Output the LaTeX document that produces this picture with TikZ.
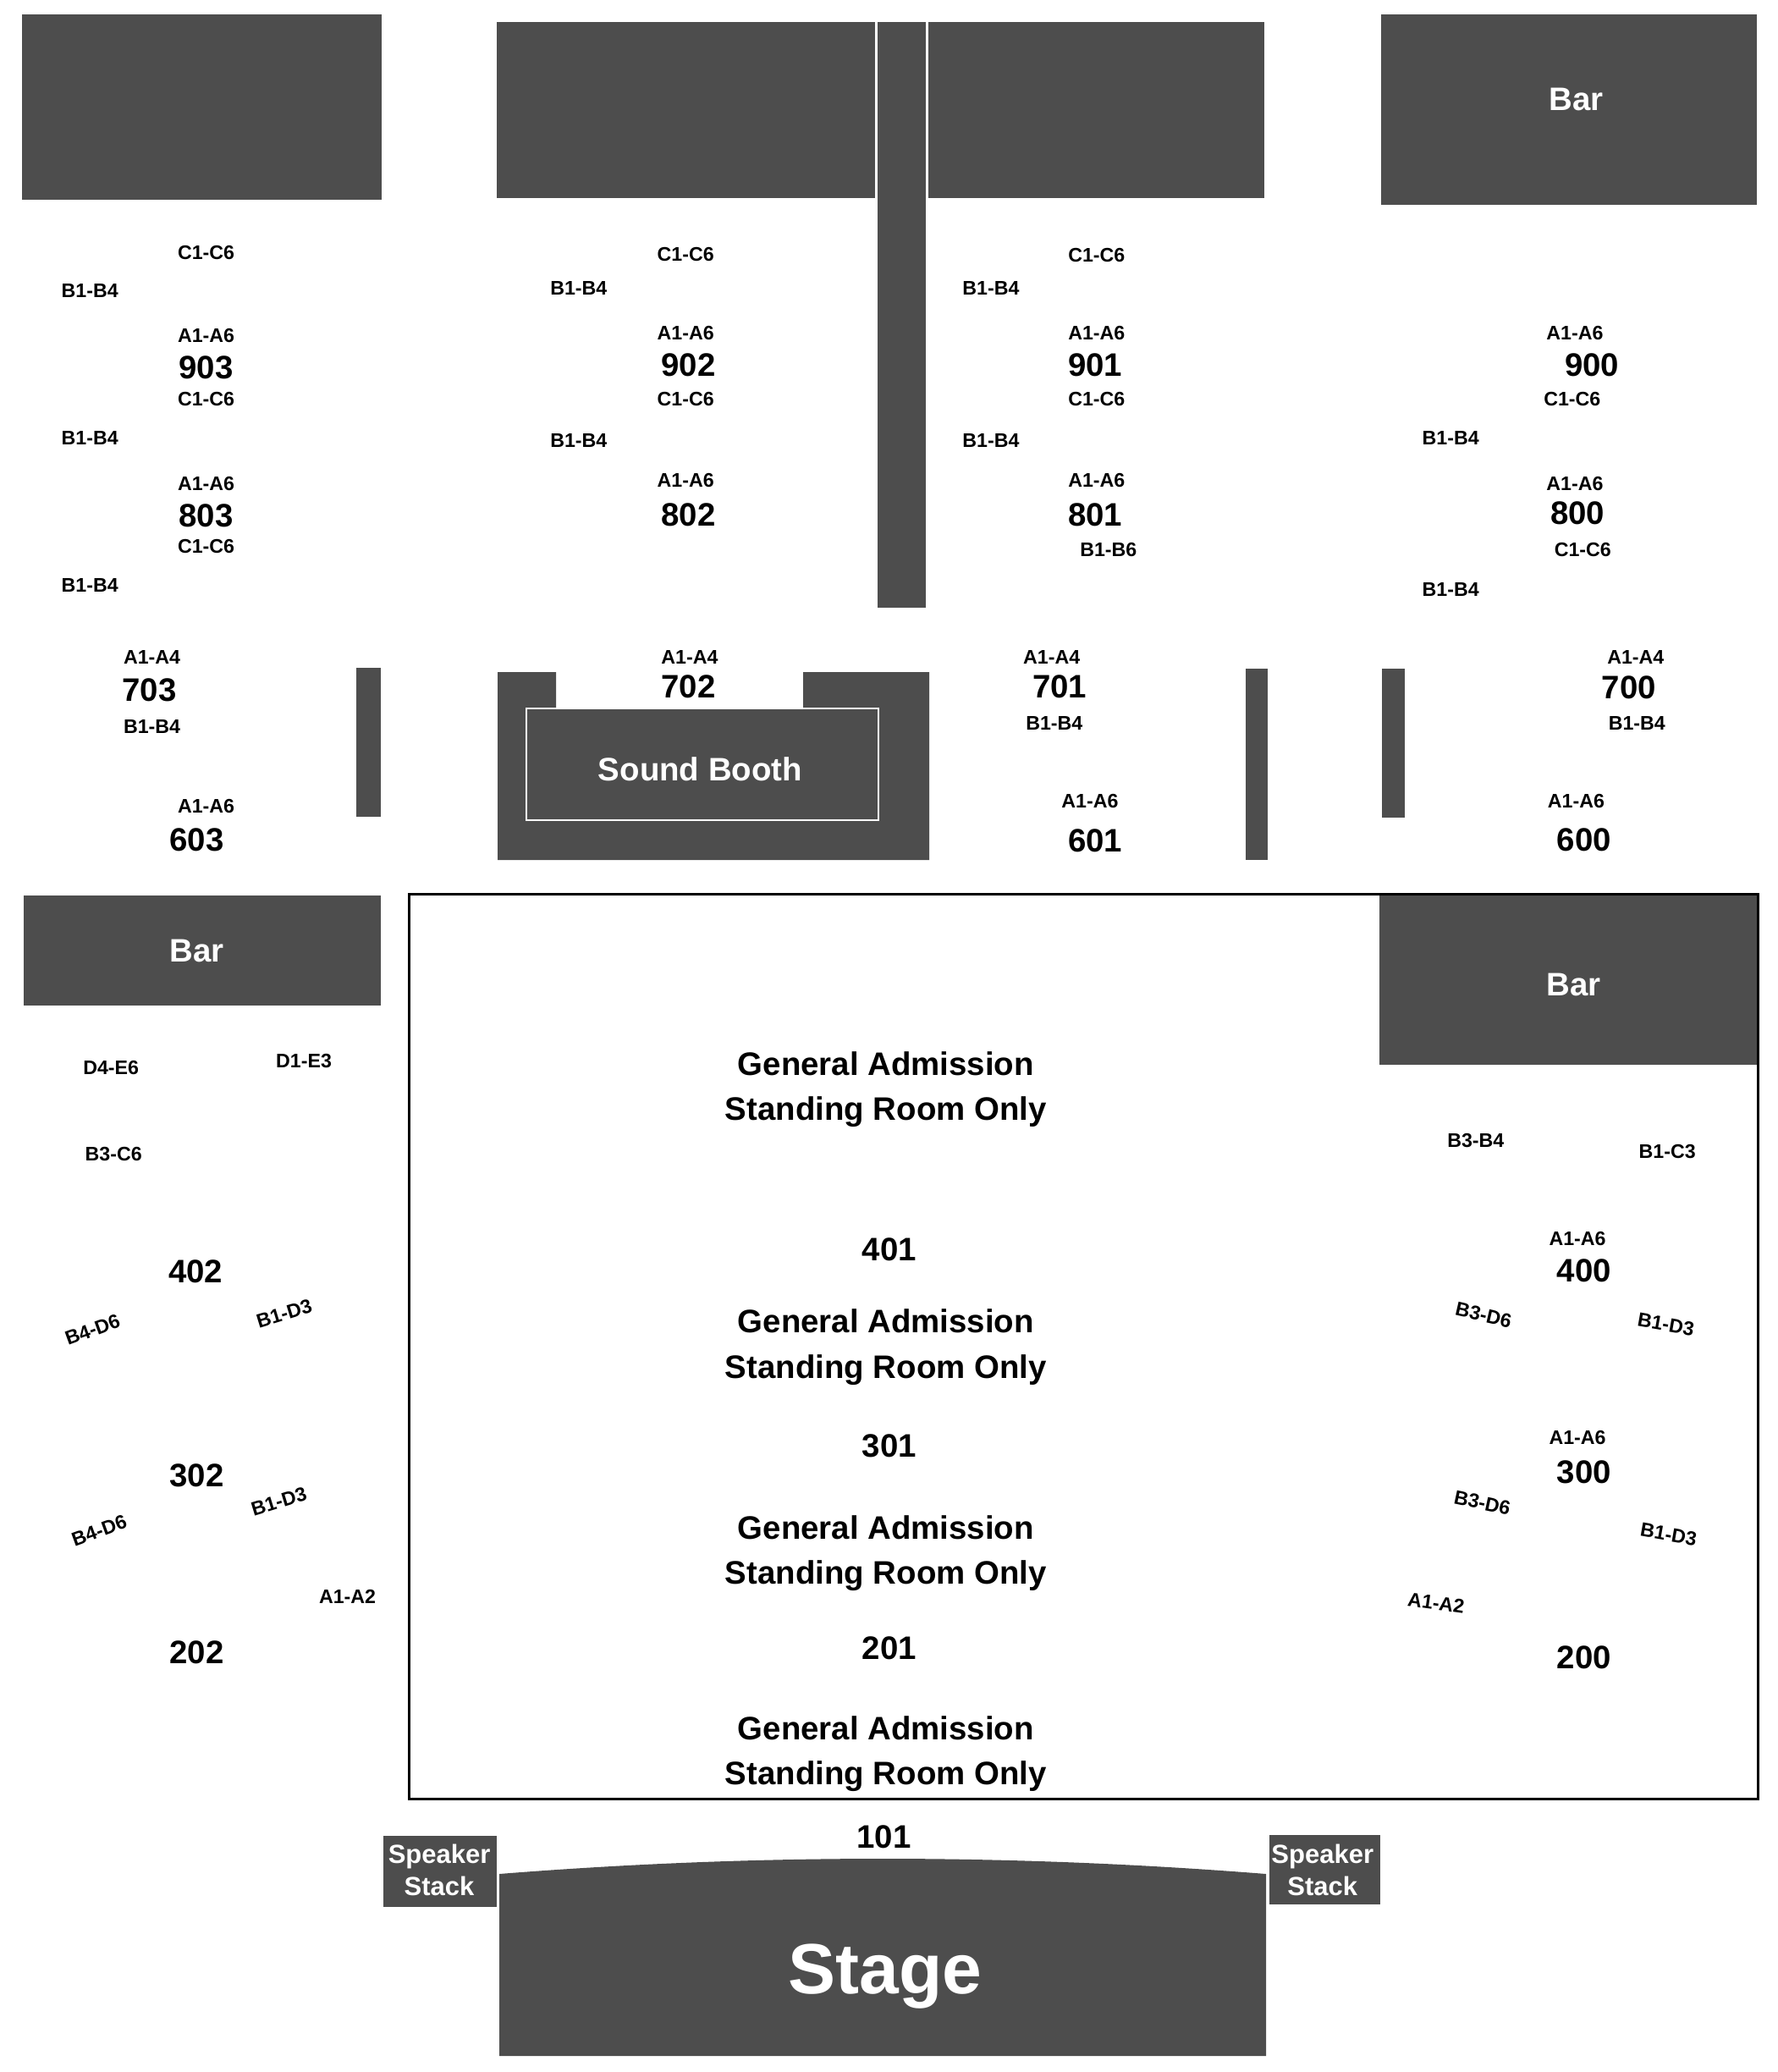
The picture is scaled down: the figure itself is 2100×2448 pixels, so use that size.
\documentclass[tikz,border=0pt]{standalone}
\usepackage{fontspec}
\setmainfont{Liberation Sans}
\definecolor{block}{HTML}{4D4D4D}
\tikzset{
  txt/.style={inner sep=0pt,font=\bfseries},
  seatlbl/.style={txt,font=\fontsize{11.6}{14}\bfseries\selectfont,text height=8.3pt,text depth=0pt},
  seclbl/.style={txt,font=\fontsize{19.2}{26.6}\bfseries\selectfont,text height=13.8pt,text depth=0pt},
  galbl/.style={txt,font=\fontsize{19.2}{26.6}\bfseries\selectfont,align=center},
  whitelbl/.style={seclbl,text=white},
  speaker/.style={txt,text=white,align=center,font=\fontsize{15.5}{19}\bfseries\selectfont},
  stagelbl/.style={txt,text=white,font=\fontsize{42}{46}\bfseries\selectfont}
}
\newcommand\lbl[5][seatlbl]{\node[#1] (#2) at (#3,#4) {#5};}
\begin{document}
\begin{tikzpicture}[x=0.5pt,y=-0.5pt]
\useasboundingbox (0,0) rectangle (2100,2448);
% top blocks
\fill[block] (26,17) rectangle (451,236);
\fill[block] (587,26) rectangle (1034,234);
\fill[block] (1037,26) rectangle (1094,718);
\fill[block] (1097,26) rectangle (1494,234);
\fill[block] (1632,17) rectangle (2076,242);
% side blocks
\fill[block] (421,789) rectangle (450,965);
\fill[block] (1472,790) rectangle (1498,1016);
\fill[block] (1633,790) rectangle (1660,966);
% sound booth
\fill[block] (588,794) -- (657,794) -- (657,837) -- (949,837) -- (949,794) -- (1098,794) -- (1098,1016) -- (588,1016) -- cycle;
\draw[white,line width=1.25pt] (622,837) rectangle (1038,969);
% bars
\fill[block] (28,1058) rectangle (450,1188);
\fill[block] (1630,1057) rectangle (2077,1258);
\draw[black,line width=1.5pt] (483.5,1056.5) rectangle (2077.5,2125.5);
% stage
\fill[block] (590,2214) .. controls (892,2190) and (1194,2190) .. (1496,2214) -- (1496,2429) -- (590,2429) -- cycle;
\fill[block] (453,2169) rectangle (587,2253);
\fill[block] (1500,2168) rectangle (1631,2250);
\begin{scope}[x=0.7806pt,y=-0.7806pt]
\lbl{a1}{156}{191}{C1-C6}
\lbl{a2}{68}{220}{B1-B4}
\lbl{a3}{156}{254}{A1-A6}
\lbl[seclbl]{s903}{156}{278}{903}
\lbl{a4}{156}{302}{C1-C6}
\lbl{a5}{68}{331}{B1-B4}
\lbl{a6}{156}{366}{A1-A6}
\lbl[seclbl]{s803}{156}{390}{803}
\lbl{a7}{156}{413}{C1-C6}
\lbl{a8}{68}{443}{B1-B4}
\lbl{a9}{115}{497}{A1-A4}
\lbl[seclbl]{s703}{113}{522}{703}
\lbl{a10}{115}{550}{B1-B4}
\lbl{a11}{156}{610}{A1-A6}
\lbl[seclbl]{s603}{149}{635}{603}
\lbl{b1}{519}{192}{C1-C6}
\lbl{b2}{438}{218}{B1-B4}
\lbl{b3}{519}{252}{A1-A6}
\lbl[seclbl]{s902}{521}{276}{902}
\lbl{b4}{519}{302}{C1-C6}
\lbl{b5}{438}{333}{B1-B4}
\lbl{b6}{519}{363}{A1-A6}
\lbl[seclbl]{s802}{521}{389}{802}
\lbl{b7}{522}{497}{A1-A4}
\lbl[seclbl]{s702}{521}{519}{702}
\lbl{c1}{830}{193}{C1-C6}
\lbl{c2}{750}{218}{B1-B4}
\lbl{c3}{830}{252}{A1-A6}
\lbl[seclbl]{s901}{829}{276}{901}
\lbl{c4}{830}{302}{C1-C6}
\lbl{c5}{750}{333}{B1-B4}
\lbl{c6}{830}{363}{A1-A6}
\lbl[seclbl]{s801}{829}{389}{801}
\lbl{c7}{839}{416}{B1-B6}
\lbl{c8}{796}{497}{A1-A4}
\lbl[seclbl]{s701}{802}{519}{701}
\lbl{c9}{798}{547}{B1-B4}
\lbl{c10}{825}{606}{A1-A6}
\lbl[seclbl]{s601}{829}{636}{601}
\lbl{d1}{1192}{252}{A1-A6}
\lbl[seclbl]{s900}{1205}{276}{900}
\lbl{d2}{1190}{302}{C1-C6}
\lbl{d3}{1098}{331}{B1-B4}
\lbl{d4}{1192}{366}{A1-A6}
\lbl[seclbl]{s800}{1194}{388}{800}
\lbl{d5}{1198}{416}{C1-C6}
\lbl{d6}{1098}{446}{B1-B4}
\lbl{d7}{1238}{497}{A1-A4}
\lbl[seclbl]{s700}{1233}{520}{700}
\lbl{d8}{1239}{547}{B1-B4}
\lbl{d9}{1193}{606}{A1-A6}
\lbl[seclbl]{s600}{1199}{635}{600}
\lbl[whitelbl]{bar1}{1193}{75}{Bar}
\lbl[whitelbl]{bar2}{149}{719}{Bar}
\lbl[whitelbl]{bar3}{1191}{745}{Bar}
\lbl[whitelbl]{booth}{530}{582}{Sound Booth}
\lbl{e1}{84}{808}{D4-E6}
\lbl{e2}{230}{803}{D1-E3}
\lbl{e3}{86}{873}{B3-C6}
\lbl[seclbl]{s402}{148}{962}{402}
\lbl[seatlbl,rotate=20]{e4}{70}{1006}{B4-D6}
\lbl[seatlbl,rotate=17]{e5}{215}{994}{B1-D3}
\lbl[seclbl]{s302}{149}{1116}{302}
\lbl[seatlbl,rotate=20]{e6}{75}{1158}{B4-D6}
\lbl[seatlbl,rotate=17]{e7}{211}{1136}{B1-D3}
\lbl{e8}{263}{1208}{A1-A2}
\lbl[seclbl]{s202}{149}{1250}{202}
\lbl[galbl]{g1}{670.5}{824.5}{General Admission\\Standing Room Only}
\lbl[seclbl]{s401}{673}{945}{401}
\lbl[galbl]{g2}{670.5}{1019.5}{General Admission\\Standing Room Only}
\lbl[seclbl]{s301}{673}{1094}{301}
\lbl[galbl]{g3}{670.5}{1175.5}{General Admission\\Standing Room Only}
\lbl[seclbl]{s201}{673}{1247}{201}
\lbl[galbl]{g4}{670.5}{1327.5}{General Admission\\Standing Room Only}
\lbl[seclbl]{s101}{669}{1390}{101}
\lbl{f1}{1117}{863}{B3-B4}
\lbl{f2}{1262}{871}{B1-C3}
\lbl{f3}{1194}{937}{A1-A6}
\lbl[seclbl]{s400}{1199}{961}{400}
\lbl[seatlbl,rotate=-13]{f4}{1123}{995}{B3-D6}
\lbl[seatlbl,rotate=-10]{f5}{1261}{1002}{B1-D3}
\lbl{f6}{1194}{1088}{A1-A6}
\lbl[seclbl]{s300}{1199}{1114}{300}
\lbl[seatlbl,rotate=-12]{f7}{1122}{1137}{B3-D6}
\lbl[seatlbl,rotate=-10]{f8}{1263}{1161}{B1-D3}
\lbl[seatlbl,rotate=-8]{f9}{1087}{1213}{A1-A2}
\lbl[seclbl]{s200}{1199}{1254}{200}
\lbl[stagelbl]{stage}{670}{1496}{Stage}
\lbl[speaker]{sp1}{332.5}{1415}{Speaker\\Stack}
\lbl[speaker]{sp2}{1001}{1415}{Speaker\\Stack}
\end{scope}
\end{tikzpicture}
\end{document}
